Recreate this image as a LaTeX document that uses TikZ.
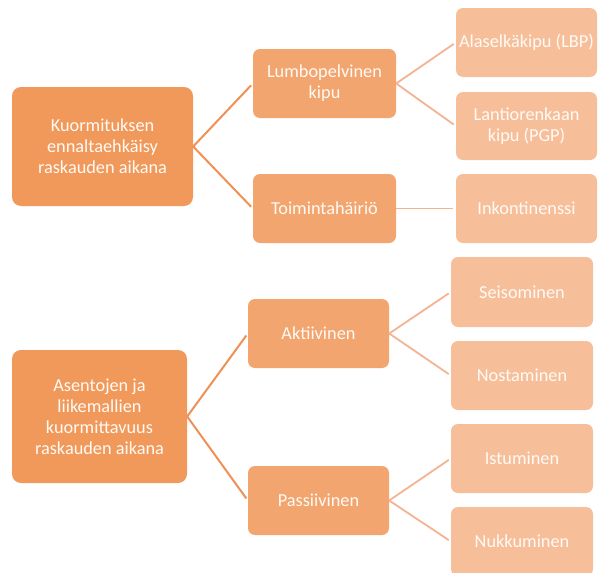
\documentclass[tikz,border=0pt]{standalone}
\usepackage{fontspec}
\setmainfont{Carlito}
\definecolor{cRoot}{HTML}{F0995B}
\definecolor{cMid}{HTML}{F2A56F}
\definecolor{cLeaf}{HTML}{F6BF9A}
\definecolor{cLineA}{HTML}{EF9157}
\definecolor{cLineB}{HTML}{F4B393}
\definecolor{cText}{HTML}{FFFAF5}
\begin{document}
\begin{tikzpicture}[x=1pt,y=-1pt,
  boxbase/.style={rectangle, inner sep=1pt, align=center, text=cText,
    font=\fontsize{18.3}{21}\selectfont},
  rootbox/.style={boxbase, fill=cRoot, rounded corners=9pt},
  midbox/.style={boxbase, fill=cMid, rounded corners=7pt, minimum width=143pt, minimum height=69pt},
  leafbox/.style={boxbase, fill=cLeaf, rounded corners=7pt, minimum width=142pt, minimum height=69pt},
  linkA/.style={draw=cLineA, line width=2pt, shorten >=2.5pt},
  linkB/.style={draw=cLineB, line width=1.8pt, shorten >=2.5pt}]
\clip (0,0) rectangle (598,573);
\fill[white] (0,0) rectangle (598,573);
% top tree
\node[rootbox, minimum width=181pt, minimum height=119pt] (r1) at (102.5,146.5)
  {Kuormituksen\\ennaltaehkäisy\\raskauden aikana};
\node[midbox] (lumbo) at (324.5,83.5) {Lumbopelvinen\\kipu};
\node[midbox] (toim) at (324.5,208.5) {Toimintahäiriö};
\node[leafbox, minimum width=141pt] (lbp) at (526.5,42.5) {Alaselkäkipu (LBP)};
\node[leafbox, minimum width=141pt, minimum height=68pt] (pgp) at (526.5,126) {Lantiorenkaan\\kipu (PGP)};
\node[leafbox, minimum width=141pt] (ink) at (526.5,208.5) {Inkontinenssi};
% bottom tree
\node[rootbox, minimum width=175pt, minimum height=133pt] (r2) at (99.5,416.5)
  {Asentojen ja\\liikemallien\\kuormittavuus\\raskauden aikana};
\node[midbox, minimum width=141pt] (akt) at (318.5,333.5) {Aktiivinen};
\node[midbox, minimum width=141pt] (pas) at (318.5,500.5) {Passiivinen};
\node[leafbox, minimum height=70pt] (seis) at (522,292) {Seisominen};
\node[leafbox] (nost) at (522,375.5) {Nostaminen};
\node[leafbox] (istu) at (522,458.5) {Istuminen};
\node[leafbox] (nukk) at (522,541.5) {Nukkuminen};
% connectors
\draw[linkA] (r1.east) -- (lumbo.west);
\draw[linkA] (r1.east) -- (toim.west);
\draw[linkB] (lumbo.east) -- (lbp.west);
\draw[linkB] (lumbo.east) -- (pgp.west);
\draw[linkB] (toim.east) -- (ink.west);
\draw[linkA] (r2.east) -- (akt.west);
\draw[linkA] (r2.east) -- (pas.west);
\draw[linkB] (akt.east) -- (seis.west);
\draw[linkB] (akt.east) -- (nost.west);
\draw[linkB] (pas.east) -- (istu.west);
\draw[linkB] (pas.east) -- (nukk.west);
\end{tikzpicture}
\end{document}
